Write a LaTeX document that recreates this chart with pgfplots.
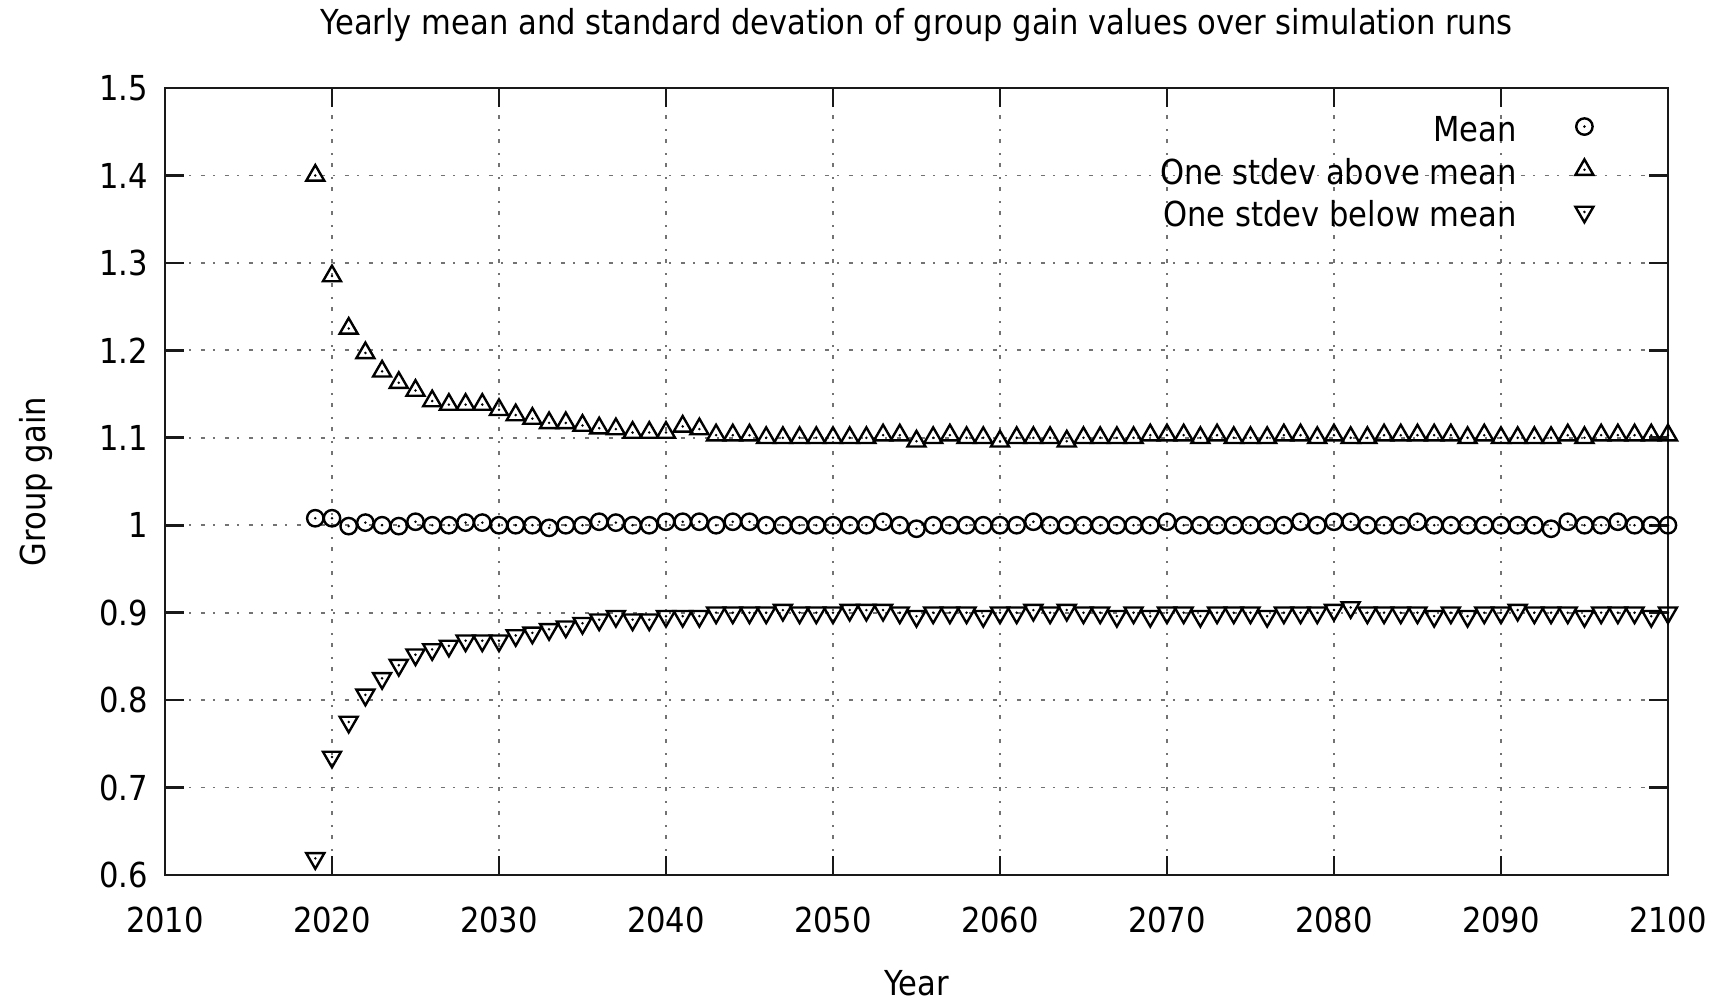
\documentclass[border=0pt]{standalone}
\usepackage{pgfplots}
\pgfplotsset{compat=1.18}
\usepackage{fontspec}
\setmainfont{DejaVu Sans}[FakeStretch=0.89]
\usetikzlibrary{plotmarks}

\newcommand\chartfont{\fontsize{8.6bp}{10.3bp}\selectfont}

% gnuplot-style open marks with a dot at the centre
\pgfdeclareplotmark{gpcircle}{%
  \pgfpathcircle{\pgfpointorigin}{\pgfplotmarksize}\pgfusepathqstroke
  \pgfpathcircle{\pgfpointorigin}{0.35bp}\pgfusepathqfill}
\pgfdeclareplotmark{gptriup}{%
  \pgfpathmoveto{\pgfqpointpolar{90}{\pgfplotmarksize}}%
  \pgfpathlineto{\pgfqpointpolar{210}{\pgfplotmarksize}}%
  \pgfpathlineto{\pgfqpointpolar{330}{\pgfplotmarksize}}%
  \pgfpathclose\pgfusepathqstroke
  \pgfpathcircle{\pgfpointorigin}{0.35bp}\pgfusepathqfill}
\pgfdeclareplotmark{gptridown}{%
  \pgfpathmoveto{\pgfqpointpolar{270}{\pgfplotmarksize}}%
  \pgfpathlineto{\pgfqpointpolar{30}{\pgfplotmarksize}}%
  \pgfpathlineto{\pgfqpointpolar{150}{\pgfplotmarksize}}%
  \pgfpathclose\pgfusepathqstroke
  \pgfpathcircle{\pgfpointorigin}{0.35bp}\pgfusepathqfill}

% yearly statistics of the group gain over all simulation runs
\pgfplotstableread{
year  mean   upper  lower
2019  1.008  1.400  0.619
2020  1.008  1.285  0.735
2021  0.999  1.225  0.775
2022  1.003  1.197  0.806
2023  1.000  1.176  0.825
2024  0.999  1.163  0.840
2025  1.004  1.154  0.852
2026  1.000  1.142  0.858
2027  1.000  1.138  0.862
2028  1.003  1.138  0.868
2029  1.003  1.138  0.868
2030  1.000  1.132  0.868
2031  1.000  1.126  0.874
2032  1.000  1.122  0.877
2033  0.997  1.117  0.881
2034  1.000  1.117  0.884
2035  1.000  1.114  0.888
2036  1.004  1.111  0.892
2037  1.003  1.110  0.896
2038  1.000  1.106  0.892
2039  1.000  1.106  0.892
2040  1.004  1.106  0.896
2041  1.004  1.113  0.896
2042  1.004  1.110  0.896
2043  1.000  1.103  0.900
2044  1.004  1.103  0.900
2045  1.004  1.103  0.900
2046  1.000  1.100  0.900
2047  1.000  1.100  0.903
2048  1.000  1.100  0.900
2049  1.000  1.100  0.900
2050  1.000  1.100  0.900
2051  1.000  1.100  0.903
2052  1.000  1.100  0.903
2053  1.004  1.103  0.903
2054  1.000  1.103  0.900
2055  0.996  1.096  0.896
2056  1.000  1.100  0.900
2057  1.000  1.103  0.900
2058  1.000  1.100  0.900
2059  1.000  1.100  0.896
2060  1.000  1.096  0.900
2061  1.000  1.100  0.900
2062  1.004  1.100  0.903
2063  1.000  1.100  0.900
2064  1.000  1.096  0.903
2065  1.000  1.100  0.900
2066  1.000  1.100  0.900
2067  1.000  1.100  0.896
2068  1.000  1.100  0.900
2069  1.000  1.103  0.896
2070  1.004  1.103  0.900
2071  1.000  1.103  0.900
2072  1.000  1.100  0.896
2073  1.000  1.103  0.900
2074  1.000  1.100  0.900
2075  1.000  1.100  0.900
2076  1.000  1.100  0.896
2077  1.000  1.103  0.900
2078  1.004  1.103  0.900
2079  1.000  1.100  0.900
2080  1.004  1.103  0.903
2081  1.004  1.100  0.906
2082  1.000  1.100  0.900
2083  1.000  1.103  0.900
2084  1.000  1.103  0.900
2085  1.004  1.103  0.900
2086  1.000  1.103  0.896
2087  1.000  1.103  0.900
2088  1.000  1.100  0.896
2089  1.000  1.103  0.900
2090  1.000  1.100  0.900
2091  1.000  1.100  0.903
2092  1.000  1.100  0.900
2093  0.996  1.100  0.900
2094  1.004  1.103  0.900
2095  1.000  1.100  0.896
2096  1.000  1.103  0.900
2097  1.004  1.103  0.900
2098  1.000  1.103  0.900
2099  1.000  1.103  0.896
2100  1.000  1.103  0.900
}\gaintable

\begin{document}
\begin{tikzpicture}
\useasboundingbox (-41.25bp,-30.75bp) rectangle (389bp,218.75bp);
\begin{axis}[
  at={(0,0)}, anchor=south west,
  scale only axis,
  width=375.75bp, height=196.75bp,
  xmin=2010, xmax=2100, ymin=0.6, ymax=1.5,
  xtick={2010,2020,2030,2040,2050,2060,2070,2080,2090,2100},
  xticklabels={2010,2020,2030,2040,2050,2060,2070,2080,2090,2100},
  ytick={0.6,0.7,0.8,0.9,1.0,1.1,1.2,1.3,1.4,1.5},
  yticklabels={0.6,0.7,0.8,0.9,1,1.1,1.2,1.3,1.4,1.5},
  /pgf/number format/assume math mode=true,
  tick align=inside,
  major tick length=4.75bp,
  every tick/.style={line width=0.65bp, black!90},
  axis line style={line width=0.65bp, black!90},
  grid=major,
  major grid style={line width=0.45bp, black!55,
    dash pattern=on 0.5bp off 2.5bp on 1.1bp off 1.9bp},
  tick label style={font=\chartfont},
  xticklabel style={anchor=base, inner sep=0pt, yshift=-14.25bp},
  yticklabel style={anchor=east, inner sep=0pt, xshift=-4bp},
  every axis title shift=0pt,
  title={Yearly mean and standard devation of group gain values over simulation runs},
  title style={font=\chartfont, at={(axis description cs:0.5,1.0680)},
    anchor=base, inner sep=0pt, yshift=0pt},
  xlabel={Year},
  xlabel style={font=\chartfont, at={(axis description cs:0.5,-0.1525)}, anchor=base, inner sep=0pt},
  ylabel={Group gain},
  ylabel style={font=\chartfont, at={(axis description cs:-0.0798,0.5)}, anchor=base, inner sep=0pt},
  clip=false,
  legend plot pos=right,
  legend cell align=right,
  legend style={font=\chartfont, draw=none, fill=none,
    at={(axis description cs:0.9536,0.9630)}, anchor=north east,
    inner sep=0pt, outer sep=0pt, row sep=2.55bp, column sep=0pt,
    nodes={inner sep=0pt, text height=6bp, text depth=2bp}},
  legend image code/.code={%
    \path (0bp,0bp) (20bp,0bp);
    \draw[#1] plot coordinates {(16.75bp,1.65bp)};},
]
\addplot[only marks, mark=gpcircle, mark size=2.05bp,
  mark options={line width=0.6bp, black}] table[x=year, y=mean] {\gaintable};
\addlegendentry{Mean}
\addplot[only marks, mark=gptriup, mark size=2.6bp,
  mark options={line width=0.6bp, black}] table[x=year, y=upper] {\gaintable};
\addlegendentry{One stdev above mean}
\addplot[only marks, mark=gptridown, mark size=2.6bp,
  mark options={line width=0.6bp, black}] table[x=year, y=lower] {\gaintable};
\addlegendentry{One stdev below mean}
\end{axis}
\end{tikzpicture}
\end{document}
